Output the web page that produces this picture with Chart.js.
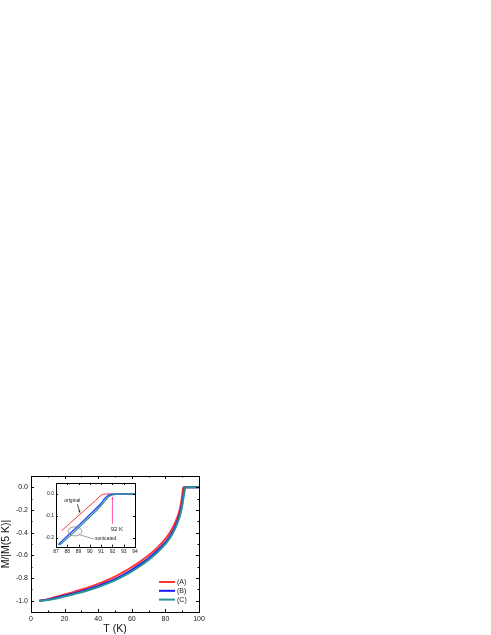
<!DOCTYPE html>
<html>
<head>
<meta charset="utf-8">
<script src="https://cdn.jsdelivr.net/npm/chart.js@4.4.1/dist/chart.umd.min.js"></script>
<style>
  html, body { margin: 0; padding: 0; background: #fff; }
  #wrap { position: relative; width: 491px; height: 635px; }
  #main { position: absolute; left: 0; top: 0; }
  #inset { position: absolute; left: 40px; top: 478px; }
</style>
</head>
<body>
<div id="wrap">
  <canvas id="main" width="491" height="635"></canvas>
  <canvas id="inset" width="100" height="78"></canvas>
</div>
<script>
// main panel: M/|M(5 K)| vs T
var tA = [5, 10, 15, 20, 25, 30, 35, 40, 45, 50, 55, 60, 65, 70, 75, 80, 82, 84, 86, 88, 89, 90, 90.6, 91, 95, 100];
var mA = [-1.0, -0.988, -0.965, -0.945, -0.925, -0.902, -0.878, -0.852, -0.822, -0.788, -0.748, -0.703, -0.655, -0.600, -0.535, -0.455, -0.415, -0.365, -0.305, -0.225, -0.165, -0.07, 0.0, 0.0, 0.0, 0.0];
var tB = [5, 10, 15, 20, 25, 30, 35, 40, 45, 50, 55, 60, 65, 70, 75, 80, 82, 84, 86, 88, 89, 90, 91, 91.7, 92, 95, 100];
var mB = [-1.0, -0.992, -0.975, -0.957, -0.938, -0.918, -0.895, -0.870, -0.842, -0.810, -0.772, -0.728, -0.680, -0.626, -0.562, -0.485, -0.447, -0.400, -0.342, -0.265, -0.215, -0.14, -0.05, 0.0, 0.0, 0.0, 0.0];
var tC = [5, 10, 15, 20, 25, 30, 35, 40, 45, 50, 55, 60, 65, 70, 75, 80, 82, 84, 86, 88, 89, 90, 91, 92, 95, 100];
var mC = [-1.0, -0.995, -0.980, -0.963, -0.945, -0.926, -0.904, -0.880, -0.852, -0.821, -0.784, -0.741, -0.694, -0.640, -0.577, -0.500, -0.462, -0.416, -0.358, -0.282, -0.232, -0.16, -0.07, 0.0, 0.0, 0.0];

var seriesLabels = ["(A)", "(B)", "(C)"];
var seriesColors = ["#ff3434", "#1a1aee", "#2b9494"];

var xTicks = [0, 20, 40, 60, 80, 100];
var xMinor = [10, 30, 50, 70, 90];
var yTicks = [0.0, -0.2, -0.4, -0.6, -0.8, -1.0];
var yMinor = [0.1, -0.1, -0.3, -0.5, -0.7, -0.9, -1.1];

// inset: zoom near Tc
var tOrig = [87.5, 88, 88.5, 89, 89.5, 90, 90.5, 90.8, 91, 91.2, 91.5, 92, 93, 94];
var mOrig = [-0.168, -0.145, -0.122, -0.099, -0.076, -0.053, -0.030, -0.015, -0.006, -0.002, 0.0, 0.0, 0.0, 0.0];
var tSon1 = [87.2, 88, 89, 90, 90.5, 91, 91.3, 91.6, 92, 92.5, 93, 94];
var mSon1 = [-0.232, -0.192, -0.144, -0.094, -0.069, -0.042, -0.022, -0.008, -0.001, 0.0, 0.0, 0.0];
var tSon2 = [87.3, 88, 89, 90, 90.5, 91, 91.4, 91.7, 92, 92.5, 93, 94];
var mSon2 = [-0.235, -0.203, -0.155, -0.105, -0.080, -0.053, -0.028, -0.012, -0.004, -0.001, 0.0, 0.0];

var insetXTicks = [87, 88, 89, 90, 91, 92, 93, 94];
var insetYTicks = [0.0, -0.1, -0.2];

Chart.defaults.font.family = '"Liberation Sans", Arial, sans-serif';
Chart.defaults.color = '#1a1a1a';

function pts(xs, ys) {
  return xs.map(function (x, i) { return { x: x, y: ys[i] }; });
}

// frame with inward ticks on all four sides
function framePlugin(major, minor, len) {
  return {
    id: 'frame',
    afterDatasetsDraw: function (chart) {
      var a = chart.chartArea, ctx = chart.ctx;
      var sx = chart.scales.x, sy = chart.scales.y;
      ctx.save();
      ctx.strokeStyle = '#000';
      ctx.lineWidth = 1;
      ctx.strokeRect(Math.round(a.left) + 0.5, Math.round(a.top) + 0.5,
        Math.round(a.right - a.left), Math.round(a.bottom - a.top));
      ctx.beginPath();
      function xt(v, l) {
        var p = Math.round(sx.getPixelForValue(v)) + 0.5;
        ctx.moveTo(p, a.bottom); ctx.lineTo(p, a.bottom - l);
        ctx.moveTo(p, a.top); ctx.lineTo(p, a.top + l);
      }
      function yt(v, l) {
        var p = Math.round(sy.getPixelForValue(v)) + 0.5;
        ctx.moveTo(a.left, p); ctx.lineTo(a.left + l, p);
        ctx.moveTo(a.right, p); ctx.lineTo(a.right - l, p);
      }
      major.x.forEach(function (v) { xt(v, len); });
      major.y.forEach(function (v) { yt(v, len); });
      minor.x.forEach(function (v) { xt(v, len / 2); });
      minor.y.forEach(function (v) { yt(v, len / 2); });
      ctx.stroke();
      ctx.restore();
    }
  };
}

var legendPlugin = {
  id: 'boxLegend',
  afterDatasetsDraw: function (chart) {
    var a = chart.chartArea, ctx = chart.ctx;
    ctx.save();
    ctx.font = '7px "Liberation Sans", Arial, sans-serif';
    ctx.textBaseline = 'middle';
    chart.data.datasets.forEach(function (ds, i) {
      var y = a.bottom - 30 + i * 8.8;
      ctx.strokeStyle = ds.borderColor;
      ctx.lineWidth = 2;
      ctx.beginPath();
      ctx.moveTo(a.right - 40, y); ctx.lineTo(a.right - 24, y);
      ctx.stroke();
      ctx.fillStyle = '#1a1a1a';
      ctx.fillText(ds.label, a.right - 22, y);
    });
    ctx.restore();
  }
};

new Chart(document.getElementById('main'), {
  type: 'line',
  data: {
    datasets: [
      { label: seriesLabels[0], data: pts(tA, mA), borderColor: seriesColors[0], order: 3 },
      { label: seriesLabels[1], data: pts(tB, mB), borderColor: seriesColors[1], order: 2 },
      { label: seriesLabels[2], data: pts(tC, mC), borderColor: seriesColors[2], order: 1 }
    ]
  },
  options: {
    responsive: false, animation: false, devicePixelRatio: 1,
    layout: { padding: { left: 0, top: 476, right: 292, bottom: 0 } },
    elements: {
      line: { borderWidth: 2, cubicInterpolationMode: 'monotone', fill: false },
      point: { radius: 0 }
    },
    plugins: { legend: { display: false }, tooltip: { enabled: false } },
    scales: {
      x: {
        type: 'linear', min: 0, max: 100,
        afterBuildTicks: function (s) { s.ticks = xTicks.map(function (v) { return { value: v }; }); },
        afterFit: function (s) { s.height = 23; },
        grid: { display: false, drawTicks: false }, border: { display: false },
        ticks: { padding: 3, maxRotation: 0, font: { size: 7 } },
        title: { display: true, text: 'T (K)', font: { size: 10.5 }, padding: 0, color: '#111' }
      },
      y: {
        type: 'linear', min: -1.1, max: 0.1,
        afterBuildTicks: function (s) { s.ticks = yTicks.map(function (v) { return { value: v }; }); },
        afterFit: function (s) { s.width = 31; },
        grid: { display: false, drawTicks: false }, border: { display: false },
        ticks: { padding: 3, font: { size: 7 }, callback: function (v) { return v.toFixed(1); } },
        title: { display: true, text: 'M/|M(5 K)|', font: { size: 10.5 }, padding: { top: 0, bottom: 0 }, color: '#111' }
      }
    }
  },
  plugins: [framePlugin({ x: xTicks, y: yTicks }, { x: xMinor, y: yMinor }, 3), legendPlugin]
});

var insetNotes = {
  id: 'insetNotes',
  beforeDatasetsDraw: function (chart) {
    var a = chart.chartArea, ctx = chart.ctx;
    ctx.save();
    ctx.fillStyle = '#fff';
    ctx.fillRect(a.left, a.top, a.right - a.left, a.bottom - a.top);
    ctx.restore();
  },
  afterDatasetsDraw: function (chart) {
    var ctx = chart.ctx;
    var X = function (v) { return chart.scales.x.getPixelForValue(v); };
    var Y = function (v) { return chart.scales.y.getPixelForValue(v); };
    function arrow(x1, y1, x2, y2, col) {
      var ang = Math.atan2(y2 - y1, x2 - x1), h = 2.5;
      ctx.strokeStyle = col; ctx.fillStyle = col; ctx.lineWidth = 0.8;
      ctx.beginPath(); ctx.moveTo(x1, y1); ctx.lineTo(x2, y2); ctx.stroke();
      ctx.beginPath();
      ctx.moveTo(x2, y2);
      ctx.lineTo(x2 - h * Math.cos(ang - 0.45), y2 - h * Math.sin(ang - 0.45));
      ctx.lineTo(x2 - h * Math.cos(ang + 0.45), y2 - h * Math.sin(ang + 0.45));
      ctx.closePath(); ctx.fill();
    }
    ctx.save();
    ctx.font = '5px "Liberation Sans", Arial, sans-serif';
    ctx.textBaseline = 'middle';
    ctx.fillStyle = '#222';
    ctx.textAlign = 'center';
    ctx.fillText('original', X(88.45), Y(-0.03));
    arrow(X(88.9), Y(-0.047), X(89.12), Y(-0.086), '#222');
    ctx.textAlign = 'left';
    ctx.fillStyle = '#222';
    ctx.fillText('sonicated', X(90.45), Y(-0.206));
    ctx.strokeStyle = '#777'; ctx.lineWidth = 0.7;
    ctx.beginPath();
    ctx.moveTo(X(89.06), Y(-0.186)); ctx.lineTo(X(90.37), Y(-0.206));
    ctx.stroke();
    ctx.beginPath();
    ctx.ellipse(X(88.68), Y(-0.171), 7, 4.5, 0, 0, Math.PI * 2);
    ctx.stroke();
    ctx.font = '6px "Liberation Sans", Arial, sans-serif';
    ctx.textAlign = 'center';
    ctx.fillStyle = '#222';
    ctx.fillText('92 K', X(92.4), Y(-0.16));
    arrow(X(92), Y(-0.136), X(92), Y(-0.014), '#ff3399');
    ctx.restore();
  }
};

new Chart(document.getElementById('inset'), {
  type: 'line',
  data: {
    datasets: [
      { label: 'original', data: pts(tOrig, mOrig), borderColor: seriesColors[0], borderWidth: 1, order: 3 },
      { label: 'sonicated B', data: pts(tSon1, mSon1), borderColor: '#3a4cff', borderWidth: 1.5, order: 2 },
      { label: 'sonicated C', data: pts(tSon2, mSon2), borderColor: seriesColors[2], borderWidth: 1.3, order: 1 }
    ]
  },
  options: {
    responsive: false, animation: false, devicePixelRatio: 1,
    layout: { padding: { left: 0, top: 5, right: 5, bottom: 0 } },
    elements: {
      line: { cubicInterpolationMode: 'monotone', fill: false },
      point: { radius: 0 }
    },
    plugins: { legend: { display: false }, tooltip: { enabled: false } },
    scales: {
      x: {
        type: 'linear', min: 87, max: 94,
        afterBuildTicks: function (s) { s.ticks = insetXTicks.map(function (v) { return { value: v }; }); },
        afterFit: function (s) { s.height = 9.3; },
        grid: { display: false, drawTicks: false }, border: { display: false },
        ticks: { padding: 1.5, maxRotation: 0, font: { size: 5 } }
      },
      y: {
        type: 'linear', min: -0.241, max: 0.05,
        afterBuildTicks: function (s) { s.ticks = insetYTicks.map(function (v) { return { value: v }; }); },
        afterFit: function (s) { s.width = 16; },
        grid: { display: false, drawTicks: false }, border: { display: false },
        ticks: { padding: 2, font: { size: 5 }, callback: function (v) { return v.toFixed(1); } }
      }
    }
  },
  plugins: [insetNotes, framePlugin({ x: insetXTicks, y: insetYTicks }, { x: [], y: [] }, 2)]
});
</script>
</body>
</html>
